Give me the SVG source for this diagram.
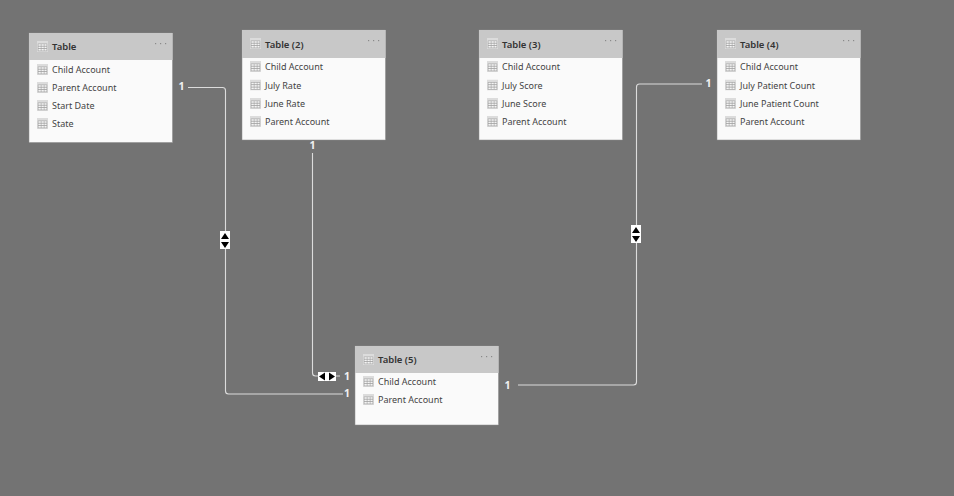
<svg xmlns="http://www.w3.org/2000/svg" width="954" height="496" viewBox="0 0 954 496">
<style>
.card{fill:#fafafa;stroke:#8a8a8a;stroke-width:.5}
.hd{fill:#c8c8c8}
.t{font:600 9.5px "Noto Sans","Open Sans",sans-serif;fill:#333}
.r{font:400 9px "Noto Sans","Open Sans",sans-serif;fill:#444}
.dots{fill:#8a8a8a}
.c{fill:none;stroke:#dcdcdc;stroke-width:1.1}
.n{font:700 10.5px "Noto Sans",sans-serif;fill:#f0f0f0;text-anchor:middle}
.ib{fill:#fff}
.ar{fill:#000}
</style>
<defs>
<symbol id="ic" width="11" height="11" viewBox="0 0 11 11">
<rect x="0" y="0" width="11" height="11" fill="#dcdcdc"/>
<rect x=".8" y="2.6" width="9.4" height="7.6" fill="#a0a0a0"/>
<g fill="#f4f4f4"><rect x="1.4" y="3.2" width="2.4" height="1.6"/><rect x="4.4" y="3.2" width="2.4" height="1.6"/><rect x="7.4" y="3.2" width="2.2" height="1.6"/><rect x="1.4" y="5.6" width="2.4" height="1.6"/><rect x="4.4" y="5.6" width="2.4" height="1.6"/><rect x="7.4" y="5.6" width="2.2" height="1.6"/><rect x="1.4" y="8" width="2.4" height="1.6"/><rect x="4.4" y="8" width="2.4" height="1.6"/><rect x="7.4" y="8" width="2.2" height="1.6"/></g>
</symbol>
<g id="dt" class="dots"><rect x="0" y="0" width="1.2" height="1.2"/><rect x="5" y="0" width="1.2" height="1.2"/><rect x="10" y="0" width="1.2" height="1.2"/></g>
</defs>
<rect width="954" height="496" fill="#737373"/>
<g id="connectors">
<path class="c" d="M188 87.500H222.500Q225.500 87.500 225.500 90.500V391Q225.500 394 228.500 394H343"/>
<path class="c" d="M312.500 153V373Q312.500 376 315.500 376H340"/>
<path class="c" d="M518 385H633.500Q636.500 385 636.500 382V87Q636.500 84 639.500 84H702"/>
<rect class="ib" x="220" y="231" width="10" height="18"/>
<path class="ar" d="M225 233l4 6h-8zM225 248l-4-6h8z"/>
<rect class="ib" x="631" y="225" width="10" height="18"/>
<path class="ar" d="M636 227l4 6h-8zM636 242l-4-6h8z"/>
<rect class="ib" x="318" y="372" width="18" height="9"/>
<path class="ar" d="M319 376.500l6-4v8zM335 376.500l-6-4v8z"/>
<text class="n" x="181.500" y="90">1</text>
<text class="n" x="312.500" y="149">1</text>
<text class="n" x="347" y="380">1</text>
<text class="n" x="347" y="397">1</text>
<text class="n" x="507.500" y="389">1</text>
<text class="n" x="708.500" y="87">1</text>
</g>
<g id="table1">
<rect class="card" x="29" y="33" width="143.500" height="109.500"/><rect class="hd" x="29" y="33" width="143.500" height="27"/>
<use href="#ic" x="37" y="41"/><text class="t" x="52" y="50">Table</text><use href="#dt" x="155" y="43"/>
<use href="#ic" x="37" y="64"/><text class="r" x="52" y="73">Child Account</text>
<use href="#ic" x="37" y="82"/><text class="r" x="52" y="91">Parent Account</text>
<use href="#ic" x="37" y="100"/><text class="r" x="52" y="109">Start Date</text>
<use href="#ic" x="37" y="118"/><text class="r" x="52" y="127">State</text>
</g>
<g id="table2">
<rect class="card" x="242" y="30" width="143.500" height="110"/><rect class="hd" x="242" y="30" width="143.500" height="28"/>
<use href="#ic" x="250" y="38"/><text class="t" x="265" y="48">Table (2)</text><use href="#dt" x="368" y="40"/>
<use href="#ic" x="250" y="61"/><text class="r" x="265" y="70">Child Account</text>
<use href="#ic" x="250" y="79.500"/><text class="r" x="265" y="88.500">July Rate</text>
<use href="#ic" x="250" y="98"/><text class="r" x="265" y="107">June Rate</text>
<use href="#ic" x="250" y="116"/><text class="r" x="265" y="125">Parent Account</text>
</g>
<g id="table3">
<rect class="card" x="479" y="30" width="143.500" height="110"/><rect class="hd" x="479" y="30" width="143.500" height="28"/>
<use href="#ic" x="487" y="38"/><text class="t" x="502" y="48">Table (3)</text><use href="#dt" x="605" y="40"/>
<use href="#ic" x="487" y="61"/><text class="r" x="502" y="70">Child Account</text>
<use href="#ic" x="487" y="79.500"/><text class="r" x="502" y="88.500">July Score</text>
<use href="#ic" x="487" y="98"/><text class="r" x="502" y="107">June Score</text>
<use href="#ic" x="487" y="116"/><text class="r" x="502" y="125">Parent Account</text>
</g>
<g id="table4">
<rect class="card" x="717" y="30" width="143.500" height="110"/><rect class="hd" x="717" y="30" width="143.500" height="28"/>
<use href="#ic" x="725" y="38"/><text class="t" x="740" y="48">Table (4)</text><use href="#dt" x="843" y="40"/>
<use href="#ic" x="725" y="61"/><text class="r" x="740" y="70">Child Account</text>
<use href="#ic" x="725" y="79.500"/><text class="r" x="740" y="88.500">July Patient Count</text>
<use href="#ic" x="725" y="98"/><text class="r" x="740" y="107">June Patient Count</text>
<use href="#ic" x="725" y="116"/><text class="r" x="740" y="125">Parent Account</text>
</g>
<g id="table5">
<rect class="card" x="355" y="346" width="143.500" height="79"/><rect class="hd" x="355" y="346" width="143.500" height="27"/>
<use href="#ic" x="363" y="354"/><text class="t" x="378" y="363">Table (5)</text><use href="#dt" x="481" y="356"/>
<use href="#ic" x="363" y="376"/><text class="r" x="378" y="385">Child Account</text>
<use href="#ic" x="363" y="394"/><text class="r" x="378" y="403">Parent Account</text>
</g>
</svg>
